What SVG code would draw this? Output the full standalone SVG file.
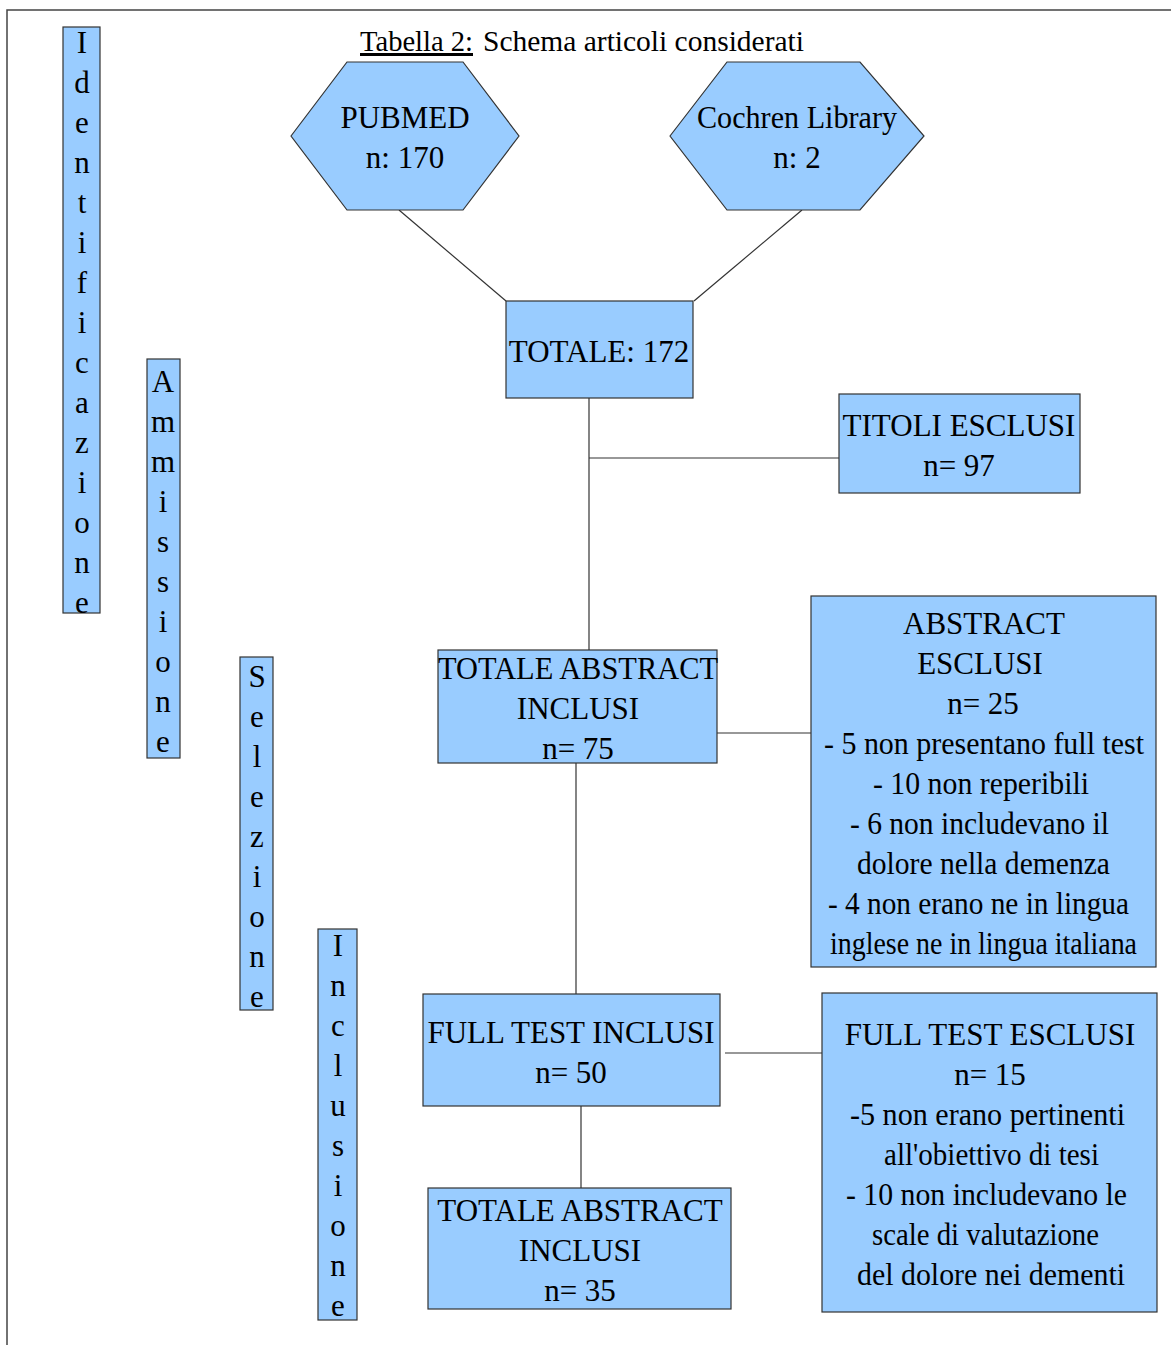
<svg xmlns="http://www.w3.org/2000/svg" width="1171" height="1345" viewBox="0 0 1171 1345">
<style>
.n{fill:#99ccff;stroke:#333;stroke-width:1.2}
.t{font-family:"Liberation Serif","Times New Roman",serif;font-size:31px;fill:#000;text-anchor:middle}
.c{stroke:#333;stroke-width:1.2;fill:none}
</style>
<rect width="1171" height="1345" fill="#fff"/>
<path d="M7,1345 V10 H1171" fill="none" stroke="#444" stroke-width="1.5"/>
<g id="title">
<text class="t" x="360" y="51" style="text-anchor:start;font-size:30px" textLength="113" lengthAdjust="spacingAndGlyphs" text-decoration="underline">Tabella 2:</text>
<text class="t" x="483" y="51" style="text-anchor:start;font-size:30px" textLength="321" lengthAdjust="spacingAndGlyphs">Schema articoli considerati</text>
</g>

<g id="connectors">
<line class="c" x1="399" y1="210" x2="506" y2="301"/>
<line class="c" x1="802" y1="210" x2="694" y2="301"/>
<line class="c" x1="589" y1="398" x2="589" y2="650"/>
<line class="c" x1="589" y1="458" x2="839" y2="458"/>
<line class="c" x1="717" y1="733" x2="811" y2="733"/>
<line class="c" x1="576" y1="763" x2="576" y2="994"/>
<line class="c" x1="725" y1="1053" x2="822" y2="1053"/>
<line class="c" x1="581" y1="1106" x2="581" y2="1188"/>
</g>

<g id="lbl-identificazione">
<rect class="n" x="63" y="27" width="37" height="586"/>
<text class="t"><tspan x="82" y="53">I</tspan><tspan x="82" y="93">d</tspan><tspan x="82" y="133">e</tspan><tspan x="82" y="173">n</tspan><tspan x="82" y="213">t</tspan><tspan x="82" y="253">i</tspan><tspan x="82" y="293">f</tspan><tspan x="82" y="333">i</tspan><tspan x="82" y="373">c</tspan><tspan x="82" y="413">a</tspan><tspan x="82" y="453">z</tspan><tspan x="82" y="493">i</tspan><tspan x="82" y="533">o</tspan><tspan x="82" y="573">n</tspan><tspan x="82" y="613">e</tspan></text>
</g>
<g id="lbl-ammissione">
<rect class="n" x="147" y="359" width="33" height="399"/>
<text class="t"><tspan x="163" y="392">A</tspan><tspan x="163" y="432">m</tspan><tspan x="163" y="472">m</tspan><tspan x="163" y="512">i</tspan><tspan x="163" y="552">s</tspan><tspan x="163" y="592">s</tspan><tspan x="163" y="632">i</tspan><tspan x="163" y="672">o</tspan><tspan x="163" y="712">n</tspan><tspan x="163" y="752">e</tspan></text>
</g>
<g id="lbl-selezione">
<rect class="n" x="240" y="657" width="33" height="353"/>
<text class="t"><tspan x="257" y="687">S</tspan><tspan x="257" y="727">e</tspan><tspan x="257" y="767">l</tspan><tspan x="257" y="807">e</tspan><tspan x="257" y="847">z</tspan><tspan x="257" y="887">i</tspan><tspan x="257" y="927">o</tspan><tspan x="257" y="967">n</tspan><tspan x="257" y="1007">e</tspan></text>
</g>
<g id="lbl-inclusione">
<rect class="n" x="318" y="929" width="39" height="391"/>
<text class="t"><tspan x="338" y="956">I</tspan><tspan x="338" y="996">n</tspan><tspan x="338" y="1036">c</tspan><tspan x="338" y="1076">l</tspan><tspan x="338" y="1116">u</tspan><tspan x="338" y="1156">s</tspan><tspan x="338" y="1196">i</tspan><tspan x="338" y="1236">o</tspan><tspan x="338" y="1276">n</tspan><tspan x="338" y="1316">e</tspan></text>
</g>

<g id="pubmed">
<polygon class="n" points="291,136 347,62 463,62 519,136 463,210 347,210"/>
<text class="t"><tspan x="405" y="128">PUBMED</tspan><tspan x="405" y="168">n: 170</tspan></text>
</g>
<g id="cochrane">
<polygon class="n" points="670,136 727,62 860,62 924,136 860,210 727,210"/>
<text class="t" x="797" y="128" textLength="200" lengthAdjust="spacingAndGlyphs">Cochren Library</text>
<text class="t" x="797" y="168">n: 2</text>
</g>
<g id="totale">
<rect class="n" x="506" y="301" width="187" height="97"/>
<text class="t" x="599" y="362">TOTALE: 172</text>
</g>
<g id="titoli-esclusi">
<rect class="n" x="839" y="394" width="241" height="99"/>
<text class="t"><tspan x="959" y="436">TITOLI ESCLUSI</tspan><tspan x="959" y="476">n= 97</tspan></text>
</g>
<g id="abstract-inclusi">
<rect class="n" x="438" y="650" width="279" height="113"/>
<text class="t" x="578" y="679" textLength="280" lengthAdjust="spacingAndGlyphs">TOTALE ABSTRACT</text>
<text class="t"><tspan x="578" y="719">INCLUSI</tspan><tspan x="578" y="759">n= 75</tspan></text>
</g>
<g id="abstract-esclusi">
<rect class="n" x="811" y="596" width="345" height="371"/>
<text class="t"><tspan x="984" y="634">ABSTRACT</tspan><tspan x="980" y="674">ESCLUSI</tspan><tspan x="983" y="714">n= 25</tspan></text>
<text class="t" x="984" y="754" textLength="320" lengthAdjust="spacingAndGlyphs">- 5 non presentano full test</text>
<text class="t" x="981" y="794" textLength="216" lengthAdjust="spacingAndGlyphs">- 10 non reperibili</text>
<text class="t" x="979.5" y="834" textLength="259" lengthAdjust="spacingAndGlyphs">- 6 non includevano il</text>
<text class="t" x="983.5" y="874" textLength="253" lengthAdjust="spacingAndGlyphs">dolore nella demenza</text>
<text class="t" x="978.5" y="914" textLength="301" lengthAdjust="spacingAndGlyphs">- 4 non erano ne in lingua</text>
<text class="t" x="983.5" y="954" textLength="307" lengthAdjust="spacingAndGlyphs">inglese ne in lingua italiana</text>
</g>
<g id="full-test-inclusi">
<rect class="n" x="423" y="994" width="297" height="112"/>
<text class="t"><tspan x="571" y="1043">FULL TEST INCLUSI</tspan><tspan x="571" y="1083">n= 50</tspan></text>
</g>
<g id="full-test-esclusi">
<rect class="n" x="822" y="993" width="335" height="319"/>
<text class="t"><tspan x="990" y="1045">FULL TEST ESCLUSI</tspan><tspan x="990" y="1085">n= 15</tspan></text>
<text class="t" x="987.5" y="1125" textLength="275" lengthAdjust="spacingAndGlyphs">-5 non erano pertinenti</text>
<text class="t" x="991.5" y="1165" textLength="215" lengthAdjust="spacingAndGlyphs">all'obiettivo di tesi</text>
<text class="t" x="986.5" y="1205" textLength="281" lengthAdjust="spacingAndGlyphs">- 10 non includevano le</text>
<text class="t" x="985.5" y="1245" textLength="227" lengthAdjust="spacingAndGlyphs">scale di valutazione</text>
<text class="t" x="991" y="1285" textLength="268" lengthAdjust="spacingAndGlyphs">del dolore nei dementi</text>
</g>
<g id="totale-abstract-inclusi-2">
<rect class="n" x="428" y="1188" width="303" height="121"/>
<text class="t"><tspan x="580" y="1221">TOTALE ABSTRACT</tspan><tspan x="580" y="1261">INCLUSI</tspan><tspan x="580" y="1301">n= 35</tspan></text>
</g>
</svg>
